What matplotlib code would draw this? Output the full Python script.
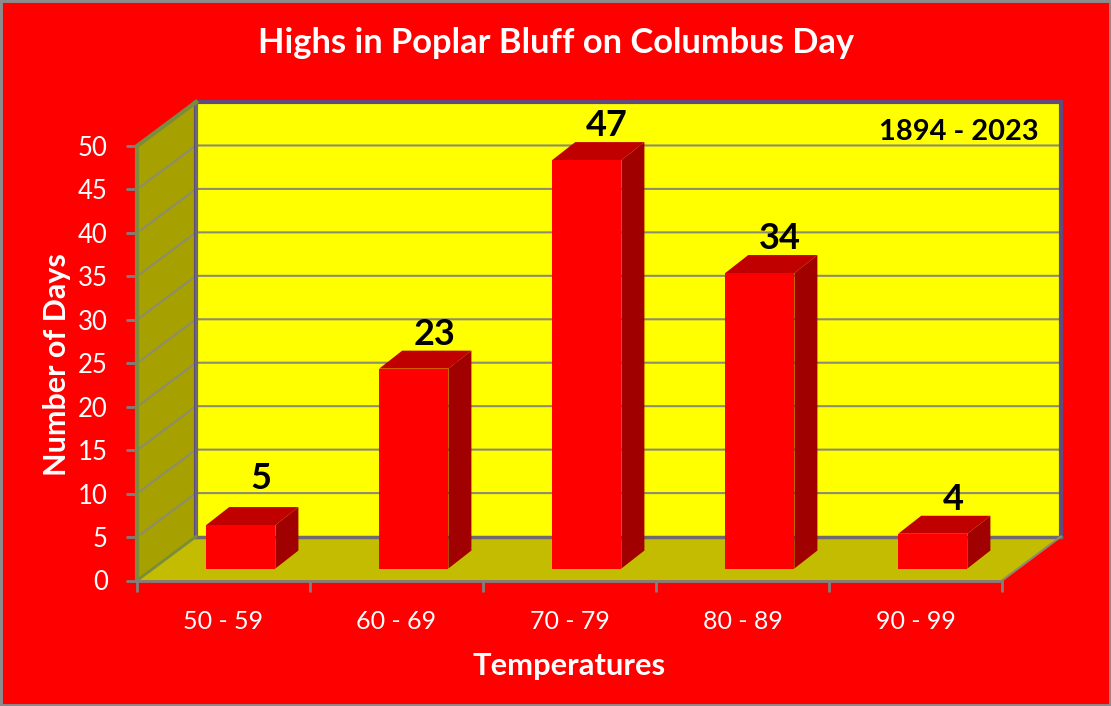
import matplotlib
matplotlib.use("Agg")
import matplotlib.pyplot as plt
from matplotlib.patches import Polygon, Rectangle

categories = ["50 - 59", "60 - 69", "70 - 79", "80 - 89", "90 - 99"]
days = [5, 23, 47, 34, 4]
y_ticks = list(range(0, 55, 5))
title = "Highs in Poplar Bluff on Columbus Day"
period = "1894 - 2023"

plt.rcParams["font.family"] = ["Lato", "DejaVu Sans"]

RED = "#ff0000"
GRID = "#8c8c6e"

# depth of the fake 3d box, in data units
wall_dx = 0.341
wall_dy = 5.06
bar_dx = 0.133
bar_dy = 2.07
bar_w = 0.4
bar_x0 = 0.4
bar_y0 = 1.38

fig = plt.figure(figsize=(11.11, 7.06), dpi=100, facecolor=RED)
ax = fig.add_axes([137 / 1111, 1 - 580.5 / 706, 865 / 1111, 434.5 / 706])
ax.set_xlim(0, 5)
ax.set_ylim(0, 50)
ax.set_facecolor("none")
for s in ax.spines.values():
    s.set_visible(False)

# thin grey frame round the whole picture
fig.add_artist(Rectangle((0, 0), 1, 1, transform=fig.transFigure, facecolor="none",
                         edgecolor="#8c8c8c", lw=3.5, zorder=10))


def poly(pts, color, z=1, **kw):
    ax.add_patch(Polygon(pts, closed=True, facecolor=color, edgecolor="none",
                         clip_on=False, zorder=z, **kw))


top = 50 + wall_dy
# back wall, side wall, floor
poly([(wall_dx, wall_dy), (5 + wall_dx, wall_dy), (5 + wall_dx, top), (wall_dx, top)], "#ffff00")
poly([(0, 0), (wall_dx, wall_dy), (wall_dx, top), (0, 50)], "#a6a000")
poly([(0, 0), (5, 0), (5 + wall_dx, wall_dy), (wall_dx, wall_dy)], "#c4bc00")

for t in y_ticks[1:]:
    ax.plot([0, wall_dx, 5 + wall_dx], [t, t + wall_dy, t + wall_dy], color=GRID, lw=1.5,
            clip_on=False, zorder=2, solid_joinstyle="miter")

# box outlines
ax.plot([wall_dx, wall_dx, 5 + wall_dx, 5 + wall_dx], [wall_dy, top, top, wall_dy],
        color="#5f4b7f", lw=3, clip_on=False, zorder=3, solid_joinstyle="miter")
ax.plot([wall_dx, 5 + wall_dx], [wall_dy, wall_dy], color="#6f6a70", lw=2.5, clip_on=False, zorder=3)
ax.plot([wall_dx, wall_dx], [wall_dy, top], color="#6f6a70", lw=2, clip_on=False, zorder=3)
ax.plot([0, 0, wall_dx], [0, 50, top], color="#7b8c3c", lw=3, clip_on=False, zorder=3,
        solid_joinstyle="miter")
ax.plot([0, wall_dx], [0, wall_dy], color="#7b8c3c", lw=2, clip_on=False, zorder=3)
ax.plot([5, 5 + wall_dx], [0, wall_dy], color=GRID, lw=1.5, clip_on=False, zorder=3)
ax.plot([0, 5], [0, 0], color="#808080", lw=2, clip_on=False, zorder=3)

# bars
for i, v in enumerate(days):
    x0 = i + bar_x0
    x1 = x0 + bar_w
    y0 = bar_y0
    y1 = y0 + v
    ax.add_patch(Rectangle((x0, y0), bar_w, v, facecolor=RED, edgecolor="none", zorder=5))
    poly([(x0, y1), (x1, y1), (x1 + bar_dx, y1 + bar_dy), (x0 + bar_dx, y1 + bar_dy)], "#c00000", 5)
    poly([(x1, y0), (x1 + bar_dx, y0 + bar_dy), (x1 + bar_dx, y1 + bar_dy), (x1, y1)], "#a00000", 5)
    # the label of the first bar sits a bit higher in the original
    lift = 1.4 if i == 0 else 0
    ax.text(x0 + bar_w / 2 + bar_dx - 0.015, y1 + bar_dy + lift, str(v), ha="center", va="bottom",
            fontsize=26, fontweight="bold", color="black", zorder=6)

ax.set_yticks(y_ticks)
ax.set_xticks(range(6))
ax.set_xticklabels([])
ax.set_xticks([i + 0.5 for i in range(5)], minor=True)
ax.set_xticklabels(categories, minor=True)
ax.tick_params(axis="y", length=8, width=2, color="#808080", labelcolor="white", labelsize=18.5, pad=13)
ax.tick_params(axis="x", which="major", length=8, width=2, color="#808080")
ax.tick_params(axis="x", which="minor", length=0, labelcolor="white", labelsize=18, pad=21)

fig.text(556 / 1111, 1 - 43 / 706, title, ha="center", va="center", color="white",
         fontsize=24.8, fontweight="bold")
fig.text(569 / 1111, 1 - 666 / 706, "Temperatures", ha="center", va="center", color="white",
         fontsize=22.2, fontweight="bold")
fig.text(57 / 1111, 1 - 364.5 / 706, "Number of Days", ha="center", va="center", rotation=90,
         color="white", fontsize=22, fontweight="bold")
fig.text(959 / 1111, 1 - 132 / 706, period, ha="center", va="center", color="black",
         fontsize=20.9, fontweight="bold")

fig.savefig("out.png", dpi=100, facecolor=RED)
